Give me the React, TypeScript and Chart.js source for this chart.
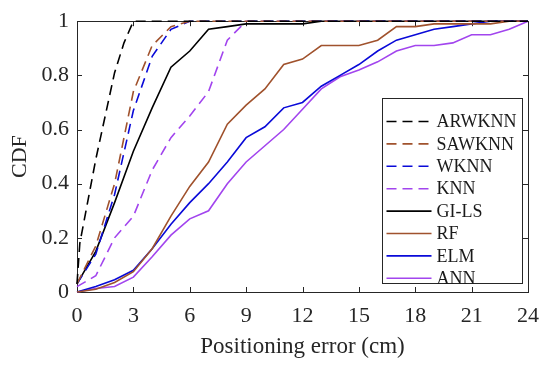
import React, { useEffect, useRef } from 'react';
import { Chart, registerables } from 'chart.js';

Chart.register(...registerables);

// ---- data ----
const errorSteps = [0, 1, 2, 3, 4, 5, 6, 7, 8, 9, 10, 11, 12, 13, 14, 15, 16, 17, 18, 19, 20, 21, 22, 23, 24];
const arwknnX = [0, 0.15, 1, 2, 2.5, 3, 24];
const arwknnCdf = [0.03, 0.18, 0.49, 0.81, 0.92, 1, 1];
const sawknnCdf = [0.03, 0.17, 0.4, 0.74, 0.91, 0.98, 1, 1, 1, 1, 1, 1, 1, 1, 1, 1, 1, 1, 1, 1, 1, 1, 1, 1, 1];
const wknnCdf = [0.03, 0.14, 0.36, 0.67, 0.87, 0.97, 1, 1, 1, 1, 1, 1, 1, 1, 1, 1, 1, 1, 1, 1, 1, 1, 1, 1, 1];
const knnCdf = [0.02, 0.06, 0.2, 0.28, 0.45, 0.57, 0.65, 0.74, 0.93, 1, 1, 1, 1, 1, 1, 1, 1, 1, 1, 1, 1, 1, 1, 1, 1];
const gilsCdf = [0.03, 0.15, 0.33, 0.52, 0.68, 0.83, 0.89, 0.97, 0.98, 0.99, 0.99, 0.99, 0.99, 1, 1, 1, 1, 1, 1, 1, 1, 1, 1, 1, 1];
const rfCdf = [0, 0.01, 0.035, 0.075, 0.16, 0.28, 0.39, 0.48, 0.62, 0.69, 0.75, 0.84, 0.86, 0.91, 0.91, 0.91, 0.93, 0.98, 0.98, 0.99, 0.99, 0.99, 0.99, 1, 1];
const elmCdf = [0, 0.02, 0.045, 0.08, 0.16, 0.25, 0.33, 0.4, 0.48, 0.57, 0.61, 0.68, 0.7, 0.76, 0.8, 0.84, 0.89, 0.93, 0.95, 0.97, 0.98, 0.99, 1, 1, 1];
const annCdf = [0, 0.013, 0.02, 0.055, 0.13, 0.21, 0.27, 0.3, 0.4, 0.48, 0.54, 0.6, 0.675, 0.75, 0.795, 0.82, 0.85, 0.89, 0.91, 0.91, 0.92, 0.95, 0.95, 0.97, 1];

const seriesNames = ['ARWKNN', 'SAWKNN', 'WKNN', 'KNN', 'GI-LS', 'RF', 'ELM', 'ANN'];

const BLACK = '#000000';
const BROWN = '#A0522D';
const BLUE = '#0A0AD8';
const PURPLE = '#A245EE';
const AXIS = '#262626';
const FONT = "'Liberation Serif', 'Times New Roman', serif";

const toPoints = (xs: number[], ys: number[]) => xs.map((x, i) => ({ x, y: ys[i] }));

const framePlugin = {
  id: 'matlabFrame',
  beforeDatasetsDraw(chart: any) {
    const { ctx, chartArea: a, scales } = chart;
    ctx.save();
    ctx.strokeStyle = AXIS;
    ctx.lineWidth = 1;
    ctx.setLineDash([]);
    ctx.strokeRect(Math.round(a.left) + 0.5, Math.round(a.top) + 0.5, Math.round(a.right - a.left), Math.round(a.bottom - a.top));
    const tl = 5;
    ctx.beginPath();
    scales.x.ticks.forEach((t: any) => {
      const px = Math.round(scales.x.getPixelForValue(t.value)) + 0.5;
      ctx.moveTo(px, a.bottom);
      ctx.lineTo(px, a.bottom - tl);
      ctx.moveTo(px, a.top);
      ctx.lineTo(px, a.top + tl);
    });
    scales.y.ticks.forEach((t: any) => {
      const py = Math.round(scales.y.getPixelForValue(t.value)) + 0.5;
      ctx.moveTo(a.left, py);
      ctx.lineTo(a.left + tl, py);
      ctx.moveTo(a.right, py);
      ctx.lineTo(a.right - tl, py);
    });
    ctx.stroke();
    ctx.restore();
  },
};

const legendPlugin = {
  id: 'boxLegend',
  afterDraw(chart: any) {
    const { ctx, chartArea: a } = chart;
    const right = Math.round(a.right - 6) + 0.5;
    const left = Math.round(a.right - 146) + 0.5;
    const top = Math.round(a.top + 77) + 0.5;
    const bottom = Math.round(a.bottom - 9) + 0.5;
    ctx.save();
    ctx.fillStyle = '#ffffff';
    ctx.fillRect(left, top, right - left, bottom - top);
    ctx.strokeStyle = AXIS;
    ctx.lineWidth = 1;
    ctx.setLineDash([]);
    ctx.strokeRect(left, top, right - left, bottom - top);
    ctx.font = `18px ${FONT}`;
    ctx.textBaseline = 'middle';
    ctx.textAlign = 'left';
    chart.data.datasets.forEach((ds: any, i: number) => {
      const y = top + 23 + i * 22.4;
      ctx.strokeStyle = ds.borderColor;
      ctx.lineWidth = ds.borderWidth;
      ctx.setLineDash(ds.borderDash || []);
      ctx.beginPath();
      ctx.moveTo(left + 4, y);
      ctx.lineTo(left + 49, y);
      ctx.stroke();
      ctx.setLineDash([]);
      ctx.fillStyle = '#1a1a1a';
      ctx.fillText(ds.label, left + 54, y + 1);
    });
    ctx.restore();
  },
};

export default function App() {
  const canvasRef = useRef<HTMLCanvasElement | null>(null);

  useEffect(() => {
    if (!canvasRef.current) return;
    const dash = [10, 6];
    const mk = (label: string, pts: any[], color: string, dashed: boolean) => ({
      label,
      data: pts,
      borderColor: color,
      backgroundColor: color,
      borderWidth: 1.6,
      borderDash: dashed ? dash : [],
      pointRadius: 0,
      tension: 0,
      fill: false,
      clip: 4,
    });
    const datasets = [
      mk(seriesNames[0], toPoints(arwknnX, arwknnCdf), BLACK, true),
      mk(seriesNames[1], toPoints(errorSteps, sawknnCdf), BROWN, true),
      mk(seriesNames[2], toPoints(errorSteps, wknnCdf), BLUE, true),
      mk(seriesNames[3], toPoints(errorSteps, knnCdf), PURPLE, true),
      mk(seriesNames[4], toPoints(errorSteps, gilsCdf), BLACK, false),
      mk(seriesNames[5], toPoints(errorSteps, rfCdf), BROWN, false),
      mk(seriesNames[6], toPoints(errorSteps, elmCdf), BLUE, false),
      mk(seriesNames[7], toPoints(errorSteps, annCdf), PURPLE, false),
    ];
    const chart = new Chart(canvasRef.current, {
      type: 'line',
      data: { datasets } as any,
      options: {
        responsive: false,
        animation: false,
        devicePixelRatio: 1,
        layout: { padding: { top: 15, right: 20, left: 0, bottom: 0 } },
        plugins: { legend: { display: false }, tooltip: { enabled: false } },
        scales: {
          x: {
            type: 'linear',
            min: 0,
            max: 24,
            grid: { display: false, drawTicks: false },
            border: { display: false },
            ticks: { stepSize: 3, color: AXIS, font: { family: FONT, size: 22 }, padding: 11, maxRotation: 0 },
            title: { display: true, text: 'Positioning error (cm)', color: AXIS, font: { family: FONT, size: 23 }, padding: { top: 0, bottom: 6 } },
            afterFit: (s: any) => { s.height = 75; },
          },
          y: {
            type: 'linear',
            min: 0,
            max: 1,
            grid: { display: false, drawTicks: false },
            border: { display: false },
            ticks: {
              stepSize: 0.2,
              color: AXIS,
              font: { family: FONT, size: 22 },
              padding: 8,
              callback: (v: any) => String(Number(Number(v).toFixed(1))),
            },
            title: { display: true, text: 'CDF', color: AXIS, font: { family: FONT, size: 22 }, padding: { top: 7, bottom: 0 } },
            afterFit: (s: any) => { s.width = 77; },
          },
        },
      },
      plugins: [framePlugin, legendPlugin],
    });
    return () => chart.destroy();
  }, []);

  return (
    <div style={{ position: 'absolute', left: 0, top: 0, width: 550, height: 367, background: '#fff' }}>
      <canvas ref={canvasRef} width={550} height={367} style={{ display: 'block' }} />
    </div>
  );
}
